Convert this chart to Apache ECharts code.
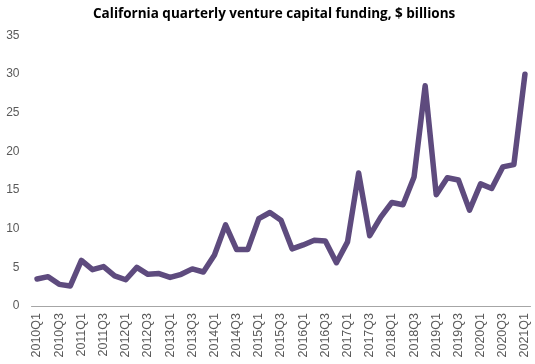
<!DOCTYPE html>
<html>
<head>
<meta charset="utf-8">
<script src="https://cdn.jsdelivr.net/npm/echarts@6/dist/echarts.min.js"></script>
<style>html,body{margin:0;padding:0;background:#fff}#c{width:535px;height:364px}</style>
</head>
<body>
<div id="c"></div>
<script>
const titleText = 'California quarterly venture capital funding, $ billions';
const years = [2010,2011,2012,2013,2014,2015,2016,2017,2018,2019,2020,2021];
const quarters = [];
years.forEach(y => { for (let q = 1; q <= 4; q++) { if (y === 2021 && q > 1) break; quarters.push(y + 'Q' + q); } });
const funding = [3.5,3.8,2.8,2.6,5.9,4.7,5.1,3.9,3.4,5.0,4.1,4.2,3.7,4.1,4.8,4.4,6.6,10.5,7.3,7.3,11.3,12.1,11.1,7.4,7.9,8.5,8.4,5.6,8.3,17.2,9.1,11.5,13.4,13.1,16.7,28.5,14.4,16.6,16.3,12.4,15.8,15.2,18.0,18.3,30.0];
const yTicks = [0,5,10,15,20,25,30,35];

const chart = echarts.init(document.getElementById('c'));
chart.setOption({
  animation: false,
  title: {
    text: titleText, left: 88, top: 2,
    textStyle: { fontFamily: 'Open Sans', fontWeight: 'bold', fontSize: 13.5, color: '#000' }
  },
  grid: { left: 31.5, right: 4.5, top: 35.5, bottom: 58, containLabel: false },
  xAxis: {
    type: 'category', data: quarters, boundaryGap: true,
    axisLine: { lineStyle: { color: '#a6a6a6', width: 1 } },
    axisTick: { show: false },
    axisLabel: { rotate: 90, interval: 1, fontFamily: 'Liberation Sans', fontSize: 12.5, color: '#595959', margin: 7 }
  },
  yAxis: {
    type: 'value', min: yTicks[0], max: yTicks[yTicks.length - 1], interval: 5,
    axisLine: { show: false }, axisTick: { show: false }, splitLine: { show: false },
    axisLabel: { fontFamily: 'Liberation Sans', fontSize: 12, color: '#595959', margin: 12 }
  },
  series: [{
    type: 'line', data: funding, symbol: 'none',
    lineStyle: { color: '#5E4B7E', width: 5.5, join: 'round', cap: 'round' }
  }]
});
</script>
</body>
</html>
